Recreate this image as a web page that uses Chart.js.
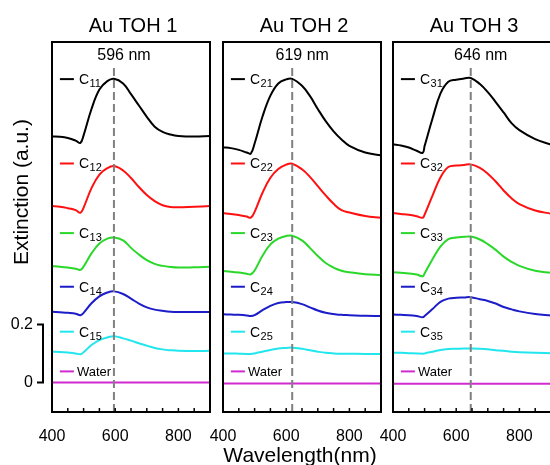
<!DOCTYPE html>
<html>
<head>
<meta charset="utf-8">
<title>Au TOH extinction spectra</title>
<script src="https://cdn.jsdelivr.net/npm/chart.js@4.4.1/dist/chart.umd.min.js"></script>
<style>
  body { margin: 0; width: 550px; height: 465px; overflow: hidden; background: #fff; position: relative; }
  canvas { position: absolute; top: 0; }
</style>
</head>
<body>
<canvas id="toh1" width="240" height="465" style="left:0px"></canvas>
<canvas id="toh2" width="210" height="465" style="left:200px"></canvas>
<canvas id="toh3" width="210" height="465" style="left:370px"></canvas>
<script>
// ---- data (offset spectra, a.u.) ----
const panelTitles = ['Au TOH 1', 'Au TOH 2', 'Au TOH 3'];
const peakWavelengths = [596, 619, 646];
const xTickLabels = [400, 600, 800];
const xTickMarks = [450, 500, 550, 600, 650, 700, 750, 800, 850];
const scaleBarTicks = [0, 0.2];

// wavelengths (nm) for each panel
const wl1 = [400, 425, 450, 475, 490, 500, 525, 550, 575, 596, 625, 650, 675, 700, 725, 750, 775, 800, 850, 900];
const wl2 = [400, 425, 450, 475, 488, 500, 525, 550, 575, 600, 619, 650, 675, 700, 725, 750, 775, 800, 850, 900];
const wl3 = [400, 425, 450, 475, 494, 500, 525, 550, 575, 600, 625, 646, 675, 700, 725, 750, 775, 800, 850, 900];

// Au TOH 1
const c11 = [0.848, 0.847, 0.843, 0.834, 0.826, 0.852, 0.943, 1.010, 1.039, 1.047, 1.031, 0.994, 0.955, 0.916, 0.882, 0.864, 0.855, 0.850, 0.848, 0.850];
const c12 = [0.608, 0.606, 0.601, 0.594, 0.585, 0.603, 0.670, 0.717, 0.739, 0.746, 0.731, 0.705, 0.674, 0.646, 0.625, 0.611, 0.605, 0.604, 0.606, 0.608];
const c13 = [0.401, 0.399, 0.396, 0.392, 0.388, 0.400, 0.445, 0.479, 0.496, 0.500, 0.490, 0.464, 0.441, 0.422, 0.409, 0.402, 0.398, 0.396, 0.397, 0.399];
const c14 = [0.244, 0.242, 0.240, 0.237, 0.232, 0.240, 0.273, 0.297, 0.310, 0.314, 0.305, 0.289, 0.272, 0.259, 0.251, 0.247, 0.244, 0.243, 0.243, 0.243];
const c15 = [0.106, 0.105, 0.103, 0.100, 0.097, 0.104, 0.129, 0.146, 0.155, 0.159, 0.152, 0.144, 0.135, 0.127, 0.119, 0.114, 0.111, 0.109, 0.108, 0.109];
const water1 = [0, 0, 0, 0, 0, 0, 0, 0, 0, 0, 0, 0, 0, 0, 0, 0, 0, 0, 0, 0];

// Au TOH 2
const c21 = [0.811, 0.808, 0.802, 0.793, 0.789, 0.824, 0.917, 0.989, 1.031, 1.045, 1.047, 1.023, 0.988, 0.943, 0.901, 0.866, 0.838, 0.816, 0.793, 0.783];
const c22 = [0.584, 0.581, 0.577, 0.572, 0.568, 0.588, 0.654, 0.706, 0.736, 0.751, 0.754, 0.735, 0.709, 0.677, 0.645, 0.616, 0.594, 0.586, 0.574, 0.568];
const c23 = [0.384, 0.382, 0.379, 0.375, 0.373, 0.386, 0.437, 0.476, 0.496, 0.505, 0.506, 0.490, 0.464, 0.436, 0.412, 0.396, 0.385, 0.380, 0.373, 0.370];
const c24 = [0.235, 0.234, 0.233, 0.231, 0.229, 0.232, 0.249, 0.264, 0.274, 0.277, 0.277, 0.270, 0.259, 0.248, 0.240, 0.236, 0.233, 0.232, 0.230, 0.229];
const c25 = [0.100, 0.100, 0.099, 0.098, 0.098, 0.100, 0.106, 0.112, 0.117, 0.119, 0.120, 0.116, 0.111, 0.106, 0.102, 0.100, 0.099, 0.099, 0.098, 0.098];
const water2 = [-0.004, -0.004, -0.004, -0.004, -0.004, -0.004, -0.004, -0.004, -0.004, -0.004, -0.004, -0.004, -0.004, -0.004, -0.004, -0.004, -0.004, -0.004, -0.004, -0.004];

// Au TOH 3
const c31 = [0.821, 0.817, 0.810, 0.799, 0.792, 0.815, 0.910, 0.996, 1.037, 1.044, 1.048, 1.050, 1.029, 1.001, 0.967, 0.931, 0.894, 0.870, 0.839, 0.820];
const c32 = [0.584, 0.581, 0.578, 0.573, 0.568, 0.579, 0.644, 0.707, 0.743, 0.748, 0.750, 0.752, 0.740, 0.720, 0.693, 0.662, 0.635, 0.615, 0.593, 0.582];
const c33 = [0.380, 0.378, 0.376, 0.372, 0.366, 0.376, 0.425, 0.468, 0.494, 0.500, 0.502, 0.503, 0.493, 0.477, 0.457, 0.434, 0.416, 0.402, 0.385, 0.378];
const c34 = [0.234, 0.233, 0.232, 0.229, 0.225, 0.229, 0.253, 0.278, 0.289, 0.292, 0.293, 0.294, 0.287, 0.281, 0.272, 0.260, 0.252, 0.245, 0.236, 0.231];
const c35 = [0.102, 0.102, 0.101, 0.100, 0.099, 0.100, 0.106, 0.112, 0.115, 0.116, 0.117, 0.117, 0.116, 0.114, 0.111, 0.109, 0.106, 0.104, 0.102, 0.101];
const water3 = [-0.005, -0.005, -0.005, -0.005, -0.005, -0.005, -0.005, -0.005, -0.005, -0.005, -0.005, -0.005, -0.005, -0.005, -0.005, -0.005, -0.005, -0.005, -0.005, -0.005];

// inline labels: subscripts per panel, and the level each label sits at
const labels1 = ['11', '12', '13', '14', '15', 'Water'];
const labels2 = ['21', '22', '23', '24', '25', 'Water'];
const labels3 = ['31', '32', '33', '34', '35', 'Water'];
const labelLevels = [1.046, 0.755, 0.515, 0.330, 0.175, 0.038];
const LABEL_WL = 425;

const seriesColors = ['#000000', '#ff1010', '#2ad82a', '#1c1cc8', '#22e6ee', '#d02ad0'];

// axis range
const Y_MIN = -0.102;
const Y_MAX = 1.174;
const DASH_TOP = 1.084;
const FONT = '"Liberation Sans", Arial, Helvetica, sans-serif';

Chart.defaults.font.family = FONT;
Chart.defaults.color = '#000';

// ---- decorations drawn through the chart's own scales ----
const panelDecor = {
    id: 'panelDecor',
    afterDatasetsDraw(chart, args, opts) {
        const { ctx, chartArea: a } = chart;
        const x = chart.scales.x;
        const y = chart.scales.y;
        ctx.save();

        // frame
        ctx.strokeStyle = '#000';
        ctx.lineWidth = 2;
        ctx.strokeRect(a.left, a.top, a.right - a.left, a.bottom - a.top);

        // inward tick marks
        ctx.lineWidth = 1.5;
        xTickMarks.forEach(w => {
            const px = x.getPixelForValue(w);
            ctx.beginPath();
            ctx.moveTo(px, a.bottom);
            ctx.lineTo(px, a.bottom - 4);
            ctx.stroke();
        });

        // panel title + peak label
        ctx.fillStyle = '#000';
        ctx.textAlign = 'center';
        ctx.textBaseline = 'alphabetic';
        ctx.font = '20px ' + FONT;
        ctx.fillText(opts.title, (a.left + a.right) / 2 + 2, 32);
        ctx.font = '16px ' + FONT;
        ctx.fillText(opts.peak + ' nm', x.getPixelForValue(opts.peak) + 10, 60);

        // curve labels
        ctx.textAlign = 'left';
        opts.labels.forEach((lab, i) => {
            const px = x.getPixelForValue(LABEL_WL);
            const py = y.getPixelForValue(labelLevels[i]);
            ctx.strokeStyle = seriesColors[i];
            ctx.lineWidth = 2;
            ctx.beginPath();
            ctx.moveTo(px, py);
            ctx.lineTo(px + 14, py);
            ctx.stroke();
            ctx.fillStyle = '#000';
            if (lab === 'Water') {
                ctx.font = '13px ' + FONT;
                ctx.fillText(lab, px + 17, py + 4.5);
            } else {
                ctx.font = '14px ' + FONT;
                ctx.fillText('C', px + 19, py + 5);
                const cw = ctx.measureText('C').width;
                ctx.font = '11px ' + FONT;
                ctx.fillText(lab, px + 19 + cw + 0.5, py + 8);
            }
        });

        // scale bar (first panel)
        if (opts.scaleBar) {
            const bx = a.left - 9;
            const yTop = y.getPixelForValue(scaleBarTicks[1]);
            const yBot = y.getPixelForValue(scaleBarTicks[0]);
            ctx.strokeStyle = '#000';
            ctx.lineWidth = 2;
            ctx.beginPath();
            ctx.moveTo(bx - 6, yTop);
            ctx.lineTo(bx, yTop);
            ctx.lineTo(bx, yBot);
            ctx.lineTo(bx - 6, yBot);
            ctx.stroke();
            ctx.font = '16px ' + FONT;
            ctx.textAlign = 'right';
            ctx.textBaseline = 'middle';
            ctx.fillText(String(scaleBarTicks[1]), bx - 10, yTop);
            ctx.fillText(String(scaleBarTicks[0]), bx - 10, yBot);

            ctx.save();
            ctx.translate(22, 192);
            ctx.rotate(-Math.PI / 2);
            ctx.textAlign = 'center';
            ctx.font = '21px ' + FONT;
            ctx.fillText('Extinction (a.u.)', 0, 0);
            ctx.restore();
        }

        // shared x title (middle panel)
        if (opts.xTitle) {
            ctx.textAlign = 'center';
            ctx.textBaseline = 'alphabetic';
            ctx.font = '21px ' + FONT;
            ctx.fillText(opts.xTitle, (a.left + a.right) / 2 - 2, 462);
        }
        ctx.restore();
    }
};

function buildDatasets(wl, series, peak) {
    const datasets = [{
        data: [{ x: peak, y: Y_MIN }, { x: peak, y: DASH_TOP }],
        borderColor: '#808080',
        borderWidth: 2,
        borderDash: [8, 4],
        pointRadius: 0
    }];
    series.forEach((vals, i) => {
        datasets.push({
            data: wl.map((w, k) => ({ x: w, y: vals[k] })),
            borderColor: seriesColors[i],
            borderWidth: 2,
            pointRadius: 0,
            tension: 0.4
        });
    });
    return datasets;
}

function makePanel(canvasId, padLeft, padRight, wl, series, idx, labels, extra) {
    const ctx = document.getElementById(canvasId).getContext('2d');
    return new Chart(ctx, {
        type: 'line',
        data: { datasets: buildDatasets(wl, series, peakWavelengths[idx]) },
        options: {
            responsive: false,
            animation: false,
            devicePixelRatio: 1,
            layout: { padding: { left: padLeft, right: padRight, top: 42, bottom: 23 } },
            plugins: {
                legend: { display: false },
                tooltip: { enabled: false },
                panelDecor: Object.assign({
                    title: panelTitles[idx],
                    peak: peakWavelengths[idx],
                    labels: labels
                }, extra)
            },
            scales: {
                x: {
                    type: 'linear',
                    min: 400,
                    max: 900,
                    grid: { display: false },
                    border: { display: false },
                    afterBuildTicks: axis => { axis.ticks = xTickLabels.map(v => ({ value: v })); },
                    afterFit: scale => { scale.height = 30; },
                    ticks: { font: { size: 16 }, color: '#000', padding: 7, maxRotation: 0, autoSkip: false }
                },
                y: { display: false, min: Y_MIN, max: Y_MAX }
            }
        },
        plugins: [panelDecor]
    });
}

document.addEventListener('DOMContentLoaded', () => {
    makePanel('toh1', 52, 30, wl1, [c11, c12, c13, c14, c15, water1], 0, labels1, { scaleBar: true });
    makePanel('toh2', 23, 29, wl2, [c21, c22, c23, c24, c25, water2], 1, labels2, { xTitle: 'Wavelength(nm)' });
    makePanel('toh3', 23, 29, wl3, [c31, c32, c33, c34, c35, water3], 2, labels3, {});
});
</script>
</body>
</html>
